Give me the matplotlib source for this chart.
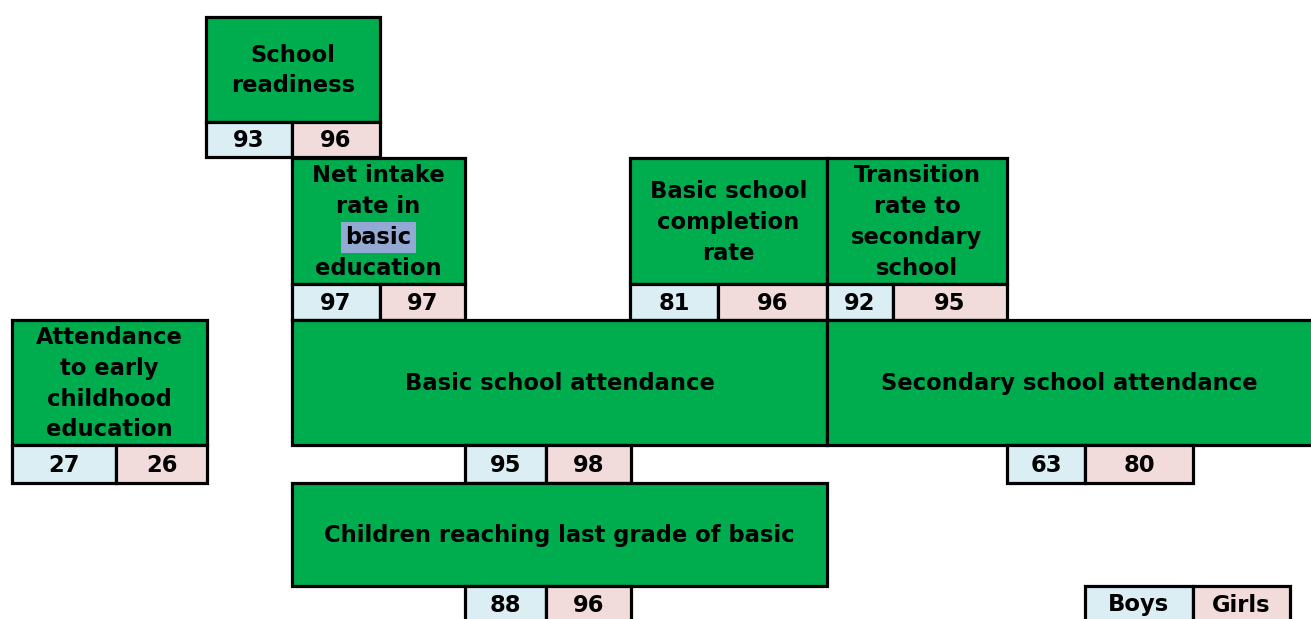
import matplotlib.pyplot as plt
from matplotlib.patches import Rectangle

# indicators (boys / girls, %)
labels = ["School\nreadiness",
          "Net intake\nrate in\nbasic\neducation",
          "Basic school\ncompletion\nrate",
          "Transition\nrate to\nsecondary\nschool",
          "Attendance\nto early\nchildhood\neducation",
          "Basic school attendance",
          "Secondary school attendance",
          "Children reaching last grade of basic"]
boys = [93, 97, 81, 92, 27, 95, 63, 88]
girls = [96, 97, 96, 95, 26, 98, 80, 96]
legend_labels = ["Boys", "Girls"]

GREEN = "#00AD4E"
BLUE = "#DAEEF3"
PINK = "#F2DCDB"
HILITE = "#93A9D4"
LW = 2.3

# layout in pixels: (label box x0, x1, y0, y1), (value cells x0, xdiv, x1, y0, y1)
layout = [
    ((206, 380, 17, 122), (206, 292, 380, 122, 157)),
    ((292, 465, 158, 284), (292, 380, 465, 284, 320)),
    ((630, 827, 158, 284), (630, 718, 827, 284, 320)),
    ((827, 1007, 158, 284), (827, 893, 1007, 284, 320)),
    ((12, 207, 320, 445), (12, 116, 207, 445, 483)),
    ((292, 827, 320, 445), (465, 546, 631, 445, 483)),
    ((827, 1325, 320, 445), (1007, 1085, 1193, 445, 483)),
    ((292, 827, 483, 586), (465, 546, 631, 586, 622)),
]
legend_cells = (1085, 1193, 1290, 586, 622)

font = dict(family="DejaVu Sans", weight="bold", fontsize=16.3, color="black")

fig = plt.figure(figsize=(13.11, 6.19), dpi=100)
ax = fig.add_axes([0, 0, 1, 1])
ax.set_xlim(0, 1311)
ax.set_ylim(619, 0)
ax.axis("off")

pitch = 31


def rect(x0, x1, y0, y1, fc):
    ax.add_patch(Rectangle((x0, y0), x1 - x0, y1 - y0, facecolor=fc,
                           edgecolor="black", linewidth=LW, clip_on=True))


def pair(cells, left, right):
    x0, xd, x1, y0, y1 = cells
    rect(x0, xd, y0, y1, BLUE)
    rect(xd, x1, y0, y1, PINK)
    yc = (y0 + y1) / 2 + 1
    ax.text((x0 + xd) / 2, yc, str(left), ha="center", va="center", **font)
    ax.text((xd + x1) / 2, yc, str(right), ha="center", va="center", **font)


for lab, b, g, (box, cells) in zip(labels, boys, girls, layout):
    x0, x1, y0, y1 = box
    rect(x0, x1, y0, y1, GREEN)
    lines = lab.split("\n")
    xc = (x0 + min(x1, 1311)) / 2
    yc = (y0 + y1) / 2
    start = yc - pitch * (len(lines) - 1) / 2
    for i, line in enumerate(lines):
        kw = {}
        if line == "basic":
            kw["bbox"] = dict(facecolor=HILITE, edgecolor="none", pad=3)
        ax.text(xc, start + i * pitch + 1, line, ha="center", va="center", **font, **kw)
    pair(cells, b, g)

pair(legend_cells, *legend_labels)

fig.savefig("out.png", dpi=100)
